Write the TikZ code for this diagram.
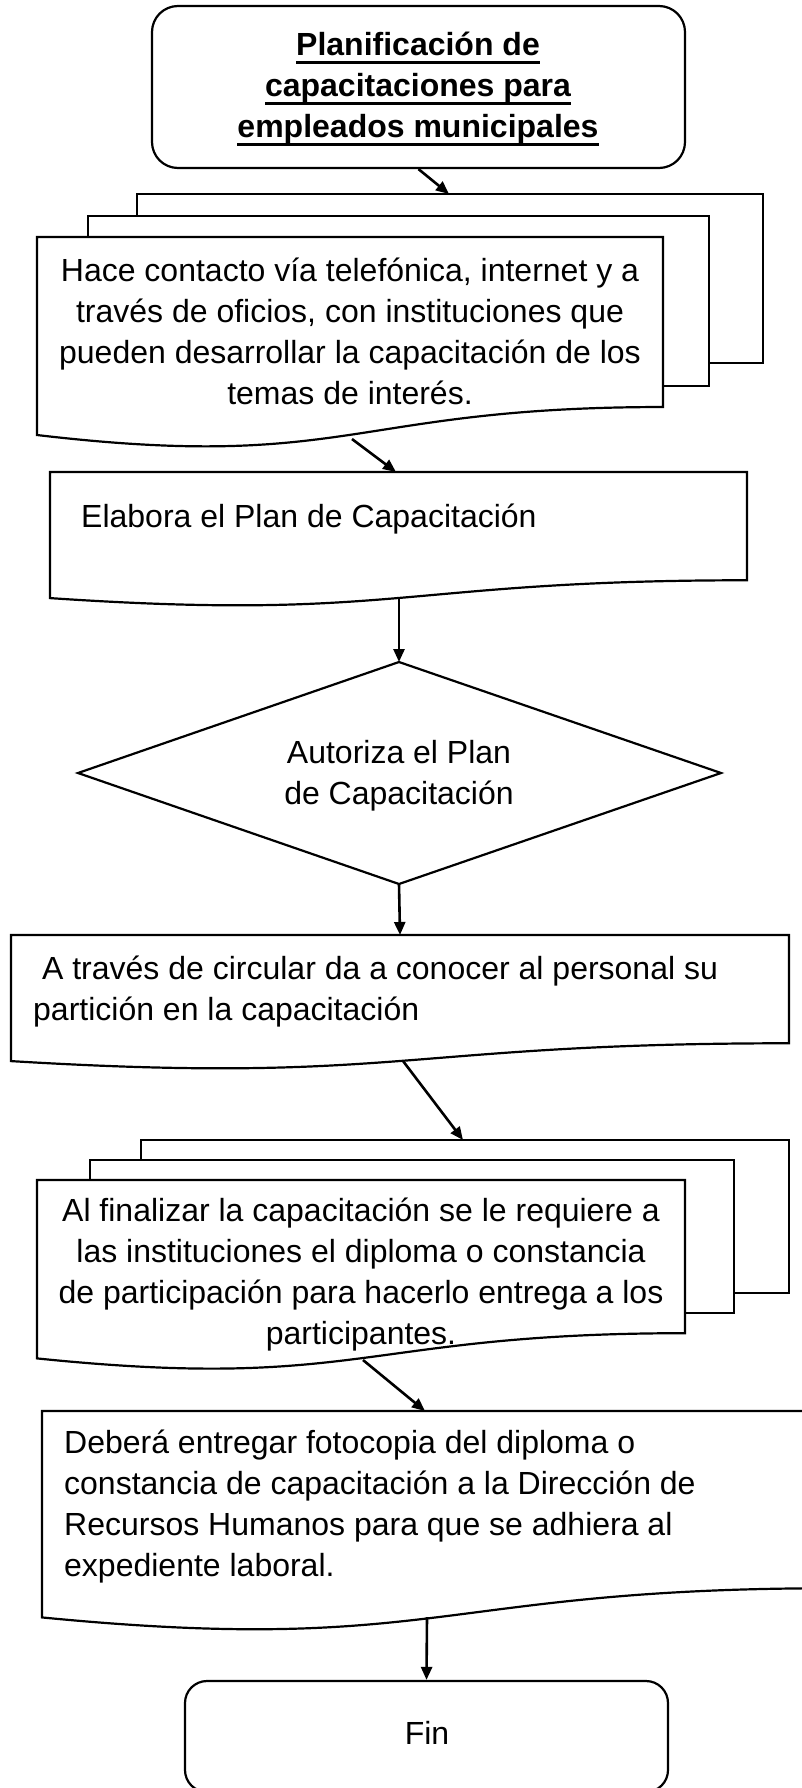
\documentclass[tikz,border=0pt]{standalone}
\usepackage{fontspec}
\setmainfont{Liberation Sans}
\usetikzlibrary{arrows.meta}
\newsavebox{\ulbox}
\newcommand{\myul}[1]{\sbox{\ulbox}{#1}\rlap{\rule[-8.6pt]{\wd\ulbox}{2.6pt}}\usebox{\ulbox}}
\newcommand{\docpath}[4]{(#1,#2) -- ({#1+#3},#2) -- ({#1+#3},{#2+0.802*#4}) .. controls ({#1+0.5*#3},{#2+0.802*#4}) and ({#1+0.5*#3},{#2+1.108*#4}) .. (#1,{#2+0.934*#4}) -- cycle}
\begin{document}
\begin{tikzpicture}[x=1pt,y=-1pt,
  shp/.style={draw=black, line width=2.2pt, fill=white},
  pages/.style={draw=black, line width=2.2pt},
  conn/.style={line width=2.6pt, -{Triangle[length=13pt,width=11pt]}},
  txt/.style={inner sep=0pt, font=\fontsize{32}{41}\selectfont, yshift=28.7pt},
]
\useasboundingbox (0,0) rectangle (801,1788);
\fill[white] (0,0) rectangle (801,1788);

% start box
\node[shp, rounded corners=26pt, minimum width=533pt, minimum height=162pt, inner sep=0pt] (start) at (418.5,87) {};
\node[txt, anchor=north, align=center, font=\fontsize{32}{41}\selectfont\bfseries] (title) at (418,55)
  {\strut\myul{Planificación de}\\\myul{capacitaciones para}\\\myul{empleados municipales}};

% multi-document 1
\draw[pages] (137,216) -- (137,194) -- (763,194) -- (763,363) -- (709,363);
\draw[pages] (88,237) -- (88,216) -- (709,216) -- (709,386) -- (663,386);
\draw[shp] \docpath{37}{237}{626}{212};
\coordinate (d1in) at (449,194);
\coordinate (d1out) at (352,439);
\node[txt, anchor=north, align=center] (t1) at (350,281)
  {\strut Hace contacto vía telefónica, internet y a\\través de oficios, con instituciones que\\pueden desarrollar la capacitación de los\\temas de interés.};

% document 2
\draw[shp] \docpath{50}{472}{697}{135};
\coordinate (d2in) at (396,472);
\coordinate (d2out) at (399,598);
\node[txt, anchor=north west, align=left] (t2) at (81,527) {\strut Elabora el Plan de Capacitación};

% decision
\coordinate (dtop) at (399,662);
\coordinate (dright) at (721,773);
\coordinate (dbot) at (399,884);
\coordinate (dleft) at (78,773);
\draw[shp] (dtop) -- (dright) -- (dbot) -- (dleft) -- cycle;
\node[txt, anchor=north, align=center] (t3) at (399,763) {\strut Autoriza el Plan\\de Capacitación};

% document 3
\draw[shp] \docpath{11}{935}{778}{135};
\coordinate (d3in) at (400,935);
\coordinate (d3out) at (403,1061);
\node[txt, anchor=north west, align=left] (t4) at (33,979)
  {\strut\hspace*{8.9pt}A través de circular da a conocer al personal su\\partición en la capacitación};

% multi-document 4
\draw[pages] (141,1160) -- (141,1140) -- (789,1140) -- (789,1293) -- (734,1293);
\draw[pages] (90,1180) -- (90,1160) -- (734,1160) -- (734,1313) -- (685,1313);
\draw[shp] \docpath{37}{1180}{648}{191};
\coordinate (d4in) at (463,1140);
\coordinate (d4out) at (363,1360);
\node[txt, anchor=north, align=center] (t5) at (361,1221)
  {\strut Al finalizar la capacitación se le requiere a\\las instituciones el diploma o constancia\\de participación para hacerlo entrega a los\\participantes.};

% document 5
\draw[shp] \docpath{42}{1411}{790}{221};
\coordinate (d5in) at (425,1411);
\coordinate (d5out) at (427,1617);
\node[txt, anchor=north west, align=left] (t6) at (64,1453)
  {\strut Deberá entregar fotocopia del diploma o\\constancia de capacitación a la Dirección de\\Recursos Humanos para que se adhiera al\\expediente laboral.};

% end
\node[shp, rounded corners=22pt, minimum width=483pt, minimum height=111pt, inner sep=0pt] (fin) at (426.5,1736.5) {};
\node[txt, anchor=north, align=center] (t7) at (427,1744) {\strut Fin};

% connectors
\draw[conn] (start.south) -- (d1in);
\draw[conn] (d1out) -- (d2in);
\draw[conn] (d2out) -- (dtop);
\draw[conn] (dbot) -- (d3in);
\draw[conn] (d3out) -- (d4in);
\draw[conn] (d4out) -- (d5in);
\draw[conn] (d5out) -- (fin.north);
\end{tikzpicture}
\end{document}
